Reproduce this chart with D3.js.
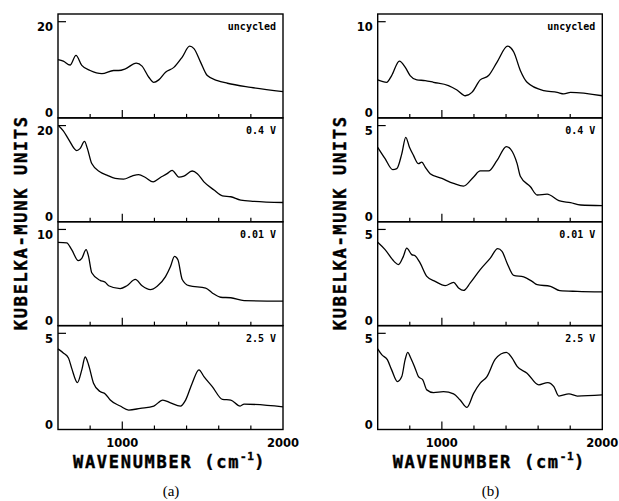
<!DOCTYPE html>
<html>
<head>
<meta charset="utf-8">
<script src="https://cdn.jsdelivr.net/npm/d3@7/dist/d3.min.js"></script>
<style>
  body { margin: 0; background: #fff; }
  svg { display: block; }
  .tick-label { font-family: "DejaVu Sans", sans-serif; font-weight: bold; font-size: 11.5px; }
  .axis-title { font-family: "DejaVu Sans Mono", monospace; font-weight: bold; font-size: 17px; letter-spacing: 1.7px; stroke: #000; stroke-width: 0.4px; }
  .row-label { font-family: "DejaVu Sans Mono", monospace; font-weight: bold; font-size: 10px; }
  .panel-label { font-family: "Liberation Serif", serif; font-size: 15px; }
</style>
</head>
<body>
<script>
// ---- data: [wavenumber cm-1, Kubelka-Munk units] ----
const rowLabels = ["uncycled", "0.4 V", "0.01 V", "2.5 V"];
const yMaxA = [20, 20, 10, 5];
const yMaxB = [10, 5, 5, 5];
const xTicks = [800, 1000, 1200, 1400, 1600, 1800];
const xTickLabels = [1000, 2000];

const a_uncycled = [[600,12.1],[633,11.8],[675,11.0],[712,13.0],[748,10.9],[800,9.85],[873,9.2],[946,9.85],[977,9.85],[1019,10.2],[1087,11.4],[1123,10.76],[1165,8.45],[1196,7.4],[1227,7.9],[1269,9.5],[1321,10.5],[1373,12.65],[1419,14.9],[1446,14.4],[1487,11.6],[1529,8.8],[1592,7.75],[1654,7.2],[1800,6.35],[2000,5.45]];
const a_04 = [[605,19.9],[633,18.9],[665,17.2],[717,14.8],[737,15.2],[765,16.7],[783,15.2],[810,12.1],[862,10.35],[904,9.7],[956,9.0],[1008,8.85],[1060,9.5],[1102,9.8],[1144,9.2],[1192,8.3],[1237,9.2],[1279,10.0],[1310,10.7],[1352,9.3],[1383,9.5],[1435,10.55],[1467,10.0],[1508,8.3],[1571,6.6],[1623,5.4],[1675,5.2],[1737,4.5],[1821,4.25],[2000,4.0]];
const a_001 = [[600,8.65],[654,8.6],[685,7.9],[727,6.75],[748,7.0],[775,7.9],[790,7.2],[810,5.5],[862,4.7],[894,4.5],[915,4.15],[987,3.85],[1029,4.15],[1081,4.8],[1123,4.15],[1175,3.75],[1217,4.1],[1269,5.1],[1300,6.15],[1325,7.2],[1346,6.85],[1373,4.8],[1415,4.15],[1519,3.9],[1560,3.4],[1612,2.95],[1675,2.9],[1758,2.6],[2000,2.55]];
const a_25 = [[600,4.19],[633,3.98],[665,3.72],[685,3.19],[721,2.44],[748,3.1],[769,3.77],[790,3.37],[821,2.41],[862,1.97],[894,1.85],[925,1.53],[987,1.22],[1040,1.01],[1112,1.1],[1196,1.22],[1252,1.53],[1300,1.39],[1362,1.22],[1394,1.53],[1435,2.41],[1477,3.1],[1508,2.75],[1560,2.23],[1623,1.57],[1675,1.53],[1733,1.22],[1758,1.32],[2000,1.18]];

const b_uncycled = [[600,3.95],[656,3.7],[687,4.4],[735,5.9],[771,5.28],[802,4.4],[844,3.95],[896,3.88],[948,3.7],[1041,3.36],[1094,2.9],[1146,2.3],[1187,2.65],[1239,3.95],[1291,4.4],[1344,5.8],[1410,7.45],[1448,6.85],[1489,4.93],[1531,3.7],[1635,2.83],[1719,2.65],[1760,2.49],[1802,2.65],[2000,2.3]];
const b_04 = [[600,3.87],[646,3.28],[694,2.71],[719,2.76],[750,3.53],[775,4.39],[798,3.87],[823,3.45],[854,3.02],[875,3.1],[896,2.84],[927,2.5],[1000,2.25],[1073,1.99],[1135,1.85],[1198,2.33],[1239,2.64],[1291,2.64],[1344,3.19],[1402,3.91],[1427,3.79],[1469,3.02],[1489,2.37],[1552,1.82],[1594,1.39],[1656,1.44],[1729,1.1],[1802,0.99],[1865,0.87],[2000,0.84]];
const b_001 = [[600,4.33],[646,3.95],[702,3.34],[729,3.17],[760,3.6],[781,4.03],[812,3.69],[833,3.63],[864,3.26],[906,2.56],[958,2.3],[1021,2.08],[1073,2.25],[1104,1.96],[1135,1.83],[1177,2.22],[1239,2.91],[1302,3.51],[1348,4.0],[1375,3.86],[1406,3.26],[1448,2.61],[1510,2.53],[1562,2.3],[1594,2.13],[1677,2.04],[1735,1.82],[1844,1.78],[2000,1.75]];
const b_25 = [[600,4.19],[625,3.89],[660,3.63],[687,3.1],[723,2.49],[750,2.75],[771,3.63],[787,4.01],[806,3.72],[833,3.19],[854,2.75],[881,2.58],[906,2.06],[948,1.92],[1010,1.97],[1073,1.85],[1114,1.53],[1156,1.15],[1198,1.88],[1239,2.41],[1281,2.75],[1333,3.66],[1402,4.01],[1437,3.72],[1469,3.28],[1531,2.93],[1604,2.32],[1660,2.44],[1698,2.23],[1729,1.74],[1792,1.85],[1844,1.74],[2000,1.8]];

const seriesA = [a_uncycled, a_04, a_001, a_25];
const seriesB = [b_uncycled, b_04, b_001, b_25];

// ---- layout ----
const W = 619, H = 501;
const plotTop = 14, plotBottom = 429.5;
const rowH = (plotBottom - plotTop) / 4;

const svg = d3.select("body").append("svg")
  .attr("width", W).attr("height", H);

function drawPanel(left, right, series, yMax, letter, titleX) {
  const x = d3.scaleLinear().domain([600, 2000]).range([left, right]);
  const g = svg.append("g");

  series.forEach((data, i) => {
    const y0 = plotTop + (i + 1) * rowH;
    const y = d3.scaleLinear().domain([0, yMax[i] * 1.08]).range([y0, y0 - rowH]);

    // frame
    g.append("rect")
      .attr("x", left).attr("y", y0 - rowH)
      .attr("width", right - left).attr("height", rowH)
      .attr("fill", "none").attr("stroke", "#000").attr("stroke-width", 1.4);

    // x ticks, pointing up into the plot
    g.selectAll(null).data(xTicks).join("line")
      .attr("x1", d => x(d)).attr("x2", d => x(d))
      .attr("y1", y0).attr("y2", d => d === 1000 ? y0 - 8 : y0 - 4)
      .attr("stroke", "#000").attr("stroke-width", 1.2);

    // y tick at the top value
    g.append("line")
      .attr("x1", left).attr("x2", left + 8)
      .attr("y1", y(yMax[i])).attr("y2", y(yMax[i]))
      .attr("stroke", "#000").attr("stroke-width", 1.2);

    g.append("text").attr("class", "tick-label")
      .attr("x", left - 5).attr("y", y(yMax[i]) + 9.5)
      .attr("text-anchor", "end").text(yMax[i]);
    g.append("text").attr("class", "tick-label")
      .attr("x", left - 5).attr("y", y0 - 0.5)
      .attr("text-anchor", "end").text(0);

    // spectrum
    const line = d3.line()
      .x(d => x(d[0])).y(d => y(d[1]))
      .curve(d3.curveMonotoneX);
    g.append("path").datum(data)
      .attr("d", line)
      .attr("fill", "none").attr("stroke", "#000").attr("stroke-width", 1.3);

    g.append("text").attr("class", "row-label")
      .attr("x", right - 7).attr("y", y0 - rowH + (i === 0 ? 15.5 : 16.5))
      .attr("text-anchor", "end").text(rowLabels[i]);
  });

  // x tick labels under the bottom row
  g.selectAll(null).data(xTickLabels).join("text")
    .attr("class", "tick-label")
    .attr("x", d => x(d)).attr("y", plotBottom + 17.5)
    .attr("text-anchor", "middle").text(d => d);

  // x axis title
  const xt = g.append("text").attr("class", "axis-title")
    .attr("x", left + 15).attr("y", plotBottom + 38.5);
  xt.append("tspan").text("WAVENUMBER (cm");
  xt.append("tspan").attr("dy", -8).attr("font-size", "11px").attr("letter-spacing", "0.5px").text("-1");
  xt.append("tspan").attr("dy", 8).text(")");

  // y axis title
  g.append("text").attr("class", "axis-title")
    .attr("transform", `translate(${titleX},${(plotTop + plotBottom) / 2 + 1}) rotate(-90)`)
    .attr("text-anchor", "middle").text("KUBELKA-MUNK UNITS");

  g.append("text").attr("class", "panel-label")
    .attr("x", (left + right) / 2 + 0.5).attr("y", 496)
    .attr("text-anchor", "middle").text(`(${letter})`);
}

drawPanel(58, 283, seriesA, yMaxA, "a", 27);
drawPanel(377.7, 602.3, seriesB, yMaxB, "b", 345.5);
</script>
</body>
</html>
